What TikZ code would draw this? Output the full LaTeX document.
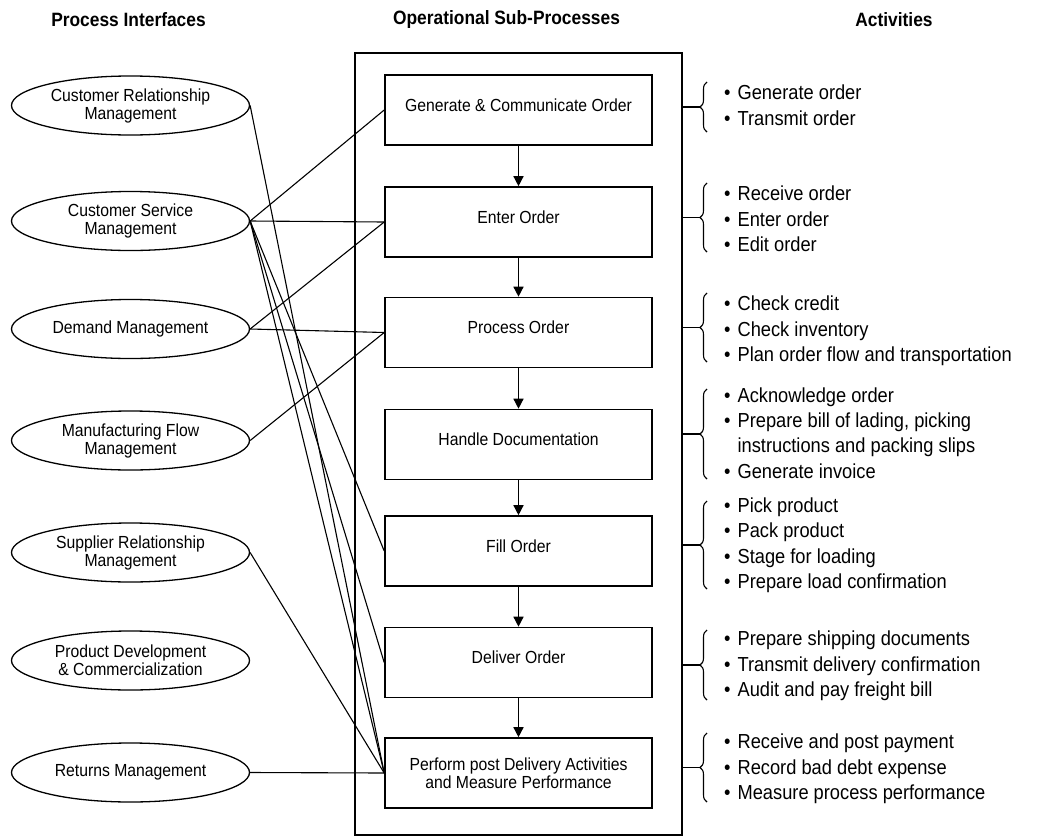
\documentclass[tikz,border=0pt]{standalone}
\usepackage{fontspec}
\setmainfont{Liberation Sans}[FakeStretch=0.9]
\usetikzlibrary{shapes.geometric,arrows.meta,decorations.pathreplacing}

\begin{document}
\begin{tikzpicture}[x=1pt,y=-1pt,
  iface/.style={ellipse,draw,line width=1.3pt,minimum width=238pt,minimum height=59pt,
    inner sep=0pt,align=center,font=\fontsize{17.5}{18}\selectfont},
  subproc/.style={rectangle,draw,line width=1.6pt,minimum width=267pt,minimum height=70pt,
    inner sep=0pt,align=center,font=\fontsize{17.5}{18}\selectfont},
  oneline/.style={text height=12.5pt,text depth=10pt},
  link/.style={line width=1.1pt},
  flow/.style={line width=1.4pt,-{Triangle[width=10pt,length=10pt]}},
  heading/.style={font=\bfseries\fontsize{19.3}{22}\selectfont},
  acts/.style={anchor=west,inner sep=0pt,font=\fontsize{20.3}{25.3}\selectfont},
  curly/.style={decorate,decoration={brace,amplitude=7pt},line width=1.1pt}]

\useasboundingbox[fill=white] (0,0) rectangle (1037,836);

% column headings
\node[heading] (h1) at (128.5,20) {Process Interfaces};
\node[heading] (h2) at (506.5,20) {Operational Sub-Processes};
\node[heading] (h3) at (894,20) {Activities};

% frame around the sub-processes
\node[draw,line width=1.6pt,minimum width=327pt,minimum height=782pt,inner sep=0pt]
  (frame) at (518.5,444) {};

% sub-processes
\node[subproc,oneline] (b1) at (518.5,110)   {Generate \& Communicate Order};
\node[subproc,oneline] (b2) at (518.5,222)   {Enter Order};
\node[subproc,oneline] (b3) at (518.5,332.5) {Process Order};
\node[subproc,oneline] (b4) at (518.5,444.5) {Handle Documentation};
\node[subproc,oneline] (b5) at (518.5,551)   {Fill Order};
\node[subproc,oneline] (b6) at (518.5,662.5) {Deliver Order};
\node[subproc] (b7) at (518.5,773)   {Perform post Delivery Activities\\and Measure Performance};

\draw[flow] (b1) -- (b2);
\draw[flow] (b2) -- (b3);
\draw[flow] (b3) -- (b4);
\draw[flow] (b4) -- (b5);
\draw[flow] (b5) -- (b6);
\draw[flow] (b6) -- (b7);

% process interfaces
\node[iface] (crm) at (130.5,105.5) {Customer Relationship\\Management};
\node[iface] (csm) at (130.5,221)   {Customer Service\\Management};
\node[iface] (dem) at (130.5,329)   {Demand Management};
\node[iface] (mfm) at (130.5,440.5) {Manufacturing Flow\\Management};
\node[iface] (srm) at (130.5,552.5) {Supplier Relationship\\Management};
\node[iface] (pdc) at (130.5,660.5) {Product Development\\\& Commercialization};
\node[iface] (ret) at (130.5,772.5) {Returns Management};

% interface links
\draw[link] (crm.east) -- (b7.west);
\draw[link] (csm.east) -- (b1.west);
\draw[link] (csm.east) -- (b2.west);
\draw[link] (csm.east) -- (b5.west);
\draw[link] (csm.east) -- (b6.west);
\draw[link] (csm.east) -- (b7.west);
\draw[link] (dem.east) -- (b2.west);
\draw[link] (dem.east) -- (b3.west);
\draw[link] (mfm.east) -- (b3.west);
\draw[link] (srm.east) -- (b7.west);
\draw[link] (ret.east) -- (b7.west);

% activity braces
\coordinate (t1) at (700,107);
\coordinate (t2) at (700,217.5);
\coordinate (t3) at (700,327.5);
\coordinate (t4) at (700,434);
\coordinate (t5) at (700,545);
\coordinate (t6) at (700,665);
\coordinate (t7) at (700,767.5);
\draw[curly] (707,132) -- (707,82);
\draw[curly] (707,252) -- (707,183);
\draw[curly] (707,362) -- (707,293);
\draw[curly] (707,479) -- (707,389);
\draw[curly] (707,589) -- (707,501);
\draw[curly] (707,700) -- (707,630);
\draw[curly] (707,802) -- (707,733);
\foreach \t in {t1,t2,t3,t4,t5,t6,t7}
  \draw[link] (\t -| frame.east) -- (\t);

% activities
\node[acts] (a1) at (724,107.5) {\begin{tabular}{@{}l@{\hspace{7pt}}l@{}}
  \textbullet & Generate order\\ \textbullet & Transmit order\end{tabular}};
\node[acts] (a2) at (724,221) {\begin{tabular}{@{}l@{\hspace{7pt}}l@{}}
  \textbullet & Receive order\\ \textbullet & Enter order\\ \textbullet & Edit order\end{tabular}};
\node[acts] (a3) at (724,331) {\begin{tabular}{@{}l@{\hspace{7pt}}l@{}}
  \textbullet & Check credit\\ \textbullet & Check inventory\\
  \textbullet & Plan order flow and transportation\end{tabular}};
\node[acts] (a4) at (724,435) {\begin{tabular}{@{}l@{\hspace{7pt}}l@{}}
  \textbullet & Acknowledge order\\ \textbullet & Prepare bill of lading, picking\\
   & instructions and packing slips\\ \textbullet & Generate invoice\end{tabular}};
\node[acts] (a5) at (724,545.5) {\begin{tabular}{@{}l@{\hspace{7pt}}l@{}}
  \textbullet & Pick product\\ \textbullet & Pack product\\
  \textbullet & Stage for loading\\ \textbullet & Prepare load confirmation\end{tabular}};
\node[acts] (a6) at (724,666) {\begin{tabular}{@{}l@{\hspace{7pt}}l@{}}
  \textbullet & Prepare shipping documents\\ \textbullet & Transmit delivery confirmation\\
  \textbullet & Audit and pay freight bill\end{tabular}};
\node[acts] (a7) at (724,769) {\begin{tabular}{@{}l@{\hspace{7pt}}l@{}}
  \textbullet & Receive and post payment\\ \textbullet & Record bad debt expense\\
  \textbullet & Measure process performance\end{tabular}};
\end{tikzpicture}
\end{document}
